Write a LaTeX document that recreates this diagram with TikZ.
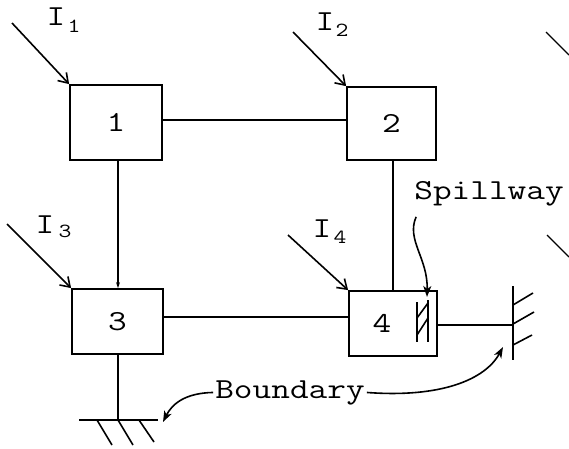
\documentclass[tikz,border=0pt]{standalone}
\usepackage{fontspec}
\newfontfamily\tw[FakeStretch=1.25]{Latin Modern Mono}
\usetikzlibrary{arrows.meta}
\tikzset{
  x=1pt, y=-1pt,
  tank/.style={draw, line width=1.8pt, rectangle, inner sep=0pt,
    font=\tw\fontsize{29}{29}\selectfont},
  label/.style={inner sep=1pt, font=\tw\fontsize{29}{29}\selectfont},
  sub/.style={inner sep=0pt, font=\tw\fontsize{20}{20}\selectfont},
  link/.style={line width=1.2pt},
  inflow/.style={line width=1.6pt, -{Straight Barb[length=9pt,width=12pt,line width=1.6pt]}},
  pointer/.style={line width=1.6pt, -{Stealth[length=11pt,width=8pt,inset=3pt]}},
  ground/.style={line width=1.6pt},
  edge/.style={line width=1.2pt}
}
\begin{document}
\begin{tikzpicture}
\useasboundingbox (0,0) rectangle (569,448);

% reservoirs
\node[tank, minimum width=92pt, minimum height=75pt] (b1) at (116,122.5) {1};
\node[tank, minimum width=89pt, minimum height=73pt] (b2) at (391.5,123.5) {2};
\node[tank, minimum width=91pt, minimum height=65pt] (b3) at (117.5,321.5) {3};
\node[tank, minimum width=88pt, minimum height=65pt] (b4) at (393,323.5) {};
\node[label] (n4) at (382,323) {4};

% links between reservoirs
\draw[link] (b1.east) ++(0,-2.5) coordinate (l12) -- (l12 -| b2.west);
\draw[link, -{Stealth[length=6pt,width=4pt]}] (b1.south) ++(2,0) coordinate (l13) -- (l13 |- b3.north);
\draw[link] (b2.south) ++(1.5,0) coordinate (l24) -- (l24 |- b4.north);
\draw[link] (b3.east) ++(0,-4.5) coordinate (l34) -- (l34 -| b4.west);

% boundaries
\coordinate (g1) at (118,420);
\draw[link] (b3.south) ++(0.5,0) coordinate (l3g) -- (g1);
\draw[ground] (79,420) -- (158,420);
\draw[ground] (97,420) -- (112,445);
\draw[ground] (118,420) -- (133,445);
\draw[ground] (139,420) -- (154,442);

\coordinate (g2) at (513,325);
\draw[link] (b4.east) ++(0,1.5) coordinate (l4g) -- (l4g -| g2);
\draw[ground] (513,286) -- (513,360);
\draw[ground] (513,305) -- (533,293);
\draw[ground] (513,324) -- (534,312);
\draw[ground] (513,345) -- (532,335);

% spillway in reservoir 4
\draw[ground] (417,302) -- (417,342);
\draw[ground] (428,300) -- (428,342);
\draw[ground] (417,318) -- (428,303);
\draw[ground] (417,335) -- (428,318);

% inflows
\coordinate (s1) at (12,23);
\coordinate (s2) at (293,32);
\coordinate (s3) at (7,224);
\coordinate (s4) at (288,235);
\draw[inflow] (s1) -- (b1.north west);
\draw[inflow] (s2) -- (b2.north west);
\draw[inflow] (s3) -- (b3.north west);
\draw[inflow] (s4) -- (b4.north west);

\node[label, anchor=base] (i1) at (56,25) {I};
\node[sub, anchor=base] (i1s) at (74,32) {1};
\node[label, anchor=base] (i2) at (325,30) {I};
\node[sub, anchor=base] (i2s) at (342,36) {2};
\node[label, anchor=base] (i3) at (45,233) {I};
\node[sub, anchor=base] (i3s) at (65,237) {3};
\node[label, anchor=base] (i4) at (322,237) {I};
\node[sub, anchor=base] (i4s) at (340,243) {4};

% annotations
\node[label, anchor=base] (spill) at (489,199) {Spillway};
\coordinate (sp) at (427,297);
\draw[pointer] (spill.south west) ++(3,10) coordinate (sp0)
  .. controls (406,240) and (428,258) .. (sp);

\node[label, anchor=base, inner sep=2pt] (bnd) at (290,398) {Boundary};
\coordinate (t1) at (163,422);
\coordinate (t2) at (503,347);
\draw[pointer] (bnd.west) .. controls (185,393) and (172,404) .. (t1);
\draw[pointer] (bnd.east) .. controls (440,398) and (485,380) .. (t2);

% strokes running off the right edge
\draw[edge] (546,32) -- (569,55);
\draw[edge] (547,235) -- (569,257);
\end{tikzpicture}
\end{document}
